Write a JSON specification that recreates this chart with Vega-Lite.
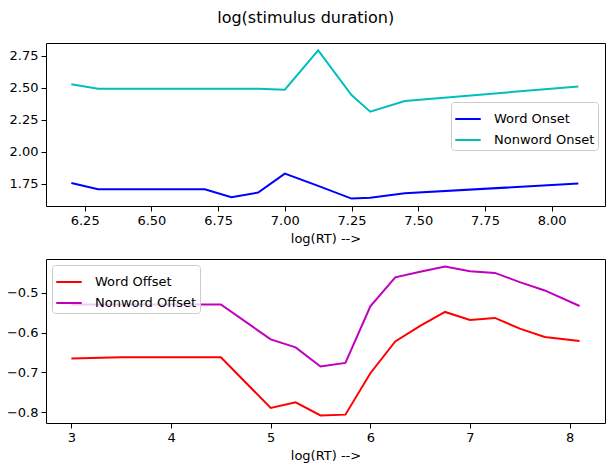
{
  "$schema": "https://vega.github.io/schema/vega-lite/v6.json",
  "padding": {"left": 5, "top": 9, "right": 2, "bottom": 2},
  "title": {"text": "log(stimulus duration)", "fontSize": 16, "font": "DejaVu Sans", "fontWeight": "normal", "color": "black", "anchor": "middle", "offset": 17},
  "config": {
    "font": "DejaVu Sans",
    "view": {"stroke": "black", "strokeWidth": 1},
    "axis": {"grid": false, "domain": false, "tickColor": "black", "tickSize": 5, "labelColor": "black", "labelFont": "DejaVu Sans", "labelFontSize": 13, "labelPadding": 3, "titleFont": "DejaVu Sans", "titleFontSize": 13, "titleFontWeight": "normal", "titleColor": "black", "titlePadding": 5},
    "legend": {"orient": "none", "title": null, "symbolType": "stroke", "symbolStrokeWidth": 2, "symbolSize": 650, "labelFont": "DejaVu Sans", "labelFontSize": 13, "labelColor": "black", "labelOffset": 12, "strokeColor": "#cccccc", "fillColor": "rgba(255,255,255,0.8)", "cornerRadius": 3, "padding": 3, "rowPadding": -9},
    "concat": {"spacing": 12}
  },
  "datasets": {
    "onset": [
      {"series": "Word Onset", "x": 6.2, "y": 1.755},
      {"series": "Word Onset", "x": 6.3, "y": 1.706},
      {"series": "Word Onset", "x": 6.7, "y": 1.706},
      {"series": "Word Onset", "x": 6.8, "y": 1.644},
      {"series": "Word Onset", "x": 6.9, "y": 1.68},
      {"series": "Word Onset", "x": 7.0, "y": 1.828},
      {"series": "Word Onset", "x": 7.125, "y": 1.732},
      {"series": "Word Onset", "x": 7.25, "y": 1.633},
      {"series": "Word Onset", "x": 7.32, "y": 1.64},
      {"series": "Word Onset", "x": 7.45, "y": 1.675},
      {"series": "Word Onset", "x": 8.1, "y": 1.75},
      {"series": "Nonword Onset", "x": 6.2, "y": 2.525},
      {"series": "Nonword Onset", "x": 6.3, "y": 2.491},
      {"series": "Nonword Onset", "x": 6.7, "y": 2.491},
      {"series": "Nonword Onset", "x": 6.8, "y": 2.491},
      {"series": "Nonword Onset", "x": 6.9, "y": 2.491},
      {"series": "Nonword Onset", "x": 7.0, "y": 2.483},
      {"series": "Nonword Onset", "x": 7.125, "y": 2.79},
      {"series": "Nonword Onset", "x": 7.25, "y": 2.442},
      {"series": "Nonword Onset", "x": 7.32, "y": 2.312},
      {"series": "Nonword Onset", "x": 7.45, "y": 2.395},
      {"series": "Nonword Onset", "x": 8.1, "y": 2.509}
    ],
    "offset": [
      {"series": "Word Offset", "x": 3.0, "y": -0.665},
      {"series": "Word Offset", "x": 3.5, "y": -0.662},
      {"series": "Word Offset", "x": 4.0, "y": -0.662},
      {"series": "Word Offset", "x": 4.5, "y": -0.662},
      {"series": "Word Offset", "x": 5.0, "y": -0.789},
      {"series": "Word Offset", "x": 5.25, "y": -0.775},
      {"series": "Word Offset", "x": 5.5, "y": -0.808},
      {"series": "Word Offset", "x": 5.75, "y": -0.806},
      {"series": "Word Offset", "x": 6.0, "y": -0.702},
      {"series": "Word Offset", "x": 6.25, "y": -0.622},
      {"series": "Word Offset", "x": 6.5, "y": -0.583},
      {"series": "Word Offset", "x": 6.75, "y": -0.548},
      {"series": "Word Offset", "x": 7.0, "y": -0.568},
      {"series": "Word Offset", "x": 7.25, "y": -0.563},
      {"series": "Word Offset", "x": 7.5, "y": -0.59},
      {"series": "Word Offset", "x": 7.75, "y": -0.611},
      {"series": "Word Offset", "x": 8.1, "y": -0.621},
      {"series": "Nonword Offset", "x": 3.0, "y": -0.529},
      {"series": "Nonword Offset", "x": 3.5, "y": -0.529},
      {"series": "Nonword Offset", "x": 4.0, "y": -0.529},
      {"series": "Nonword Offset", "x": 4.5, "y": -0.529},
      {"series": "Nonword Offset", "x": 5.0, "y": -0.617},
      {"series": "Nonword Offset", "x": 5.25, "y": -0.637},
      {"series": "Nonword Offset", "x": 5.5, "y": -0.685},
      {"series": "Nonword Offset", "x": 5.75, "y": -0.676},
      {"series": "Nonword Offset", "x": 6.0, "y": -0.534},
      {"series": "Nonword Offset", "x": 6.25, "y": -0.461},
      {"series": "Nonword Offset", "x": 6.5, "y": -0.447},
      {"series": "Nonword Offset", "x": 6.75, "y": -0.434},
      {"series": "Nonword Offset", "x": 7.0, "y": -0.446},
      {"series": "Nonword Offset", "x": 7.25, "y": -0.45},
      {"series": "Nonword Offset", "x": 7.5, "y": -0.473},
      {"series": "Nonword Offset", "x": 7.75, "y": -0.494},
      {"series": "Nonword Offset", "x": 8.1, "y": -0.533}
    ]
  },
  "resolve": {"scale": {"x": "independent", "y": "independent", "color": "independent"}, "legend": {"color": "independent"}},
  "vconcat": [
    {
      "width": 559,
      "height": 163,
      "data": {"name": "onset"},
      "mark": {"type": "line", "strokeWidth": 2, "clip": true},
      "encoding": {
        "x": {"field": "x", "type": "quantitative", "title": "log(RT) -->", "scale": {"domain": [6.105, 8.2], "nice": false, "zero": false}, "axis": {"values": [6.25, 6.5, 6.75, 7.0, 7.25, 7.5, 7.75, 8.0], "format": ".2f"}},
        "y": {"field": "y", "type": "quantitative", "title": null, "scale": {"domain": [1.575, 2.848], "nice": false, "zero": false}, "axis": {"values": [1.75, 2.0, 2.25, 2.5, 2.75], "format": ".2f"}},
        "color": {"field": "series", "type": "nominal", "scale": {"domain": ["Word Onset", "Nonword Onset"], "range": ["#0000ff", "#00bfbf"]}, "legend": {"legendX": 405, "legendY": 59}}
      }
    },
    {
      "width": 559,
      "height": 164,
      "data": {"name": "offset"},
      "mark": {"type": "line", "strokeWidth": 2, "clip": true},
      "encoding": {
        "x": {"field": "x", "type": "quantitative", "title": "log(RT) -->", "scale": {"domain": [2.745, 8.355], "nice": false, "zero": false}, "axis": {"values": [3, 4, 5, 6, 7, 8], "format": "d"}},
        "y": {"field": "y", "type": "quantitative", "title": null, "scale": {"domain": [-0.827, -0.415], "nice": false, "zero": false}, "axis": {"values": [-0.8, -0.7, -0.6, -0.5], "format": ".1f"}},
        "color": {"field": "series", "type": "nominal", "scale": {"domain": ["Word Offset", "Nonword Offset"], "range": ["#ff0000", "#bf00bf"]}, "legend": {"legendX": 6, "legendY": 6}}
      }
    }
  ]
}
